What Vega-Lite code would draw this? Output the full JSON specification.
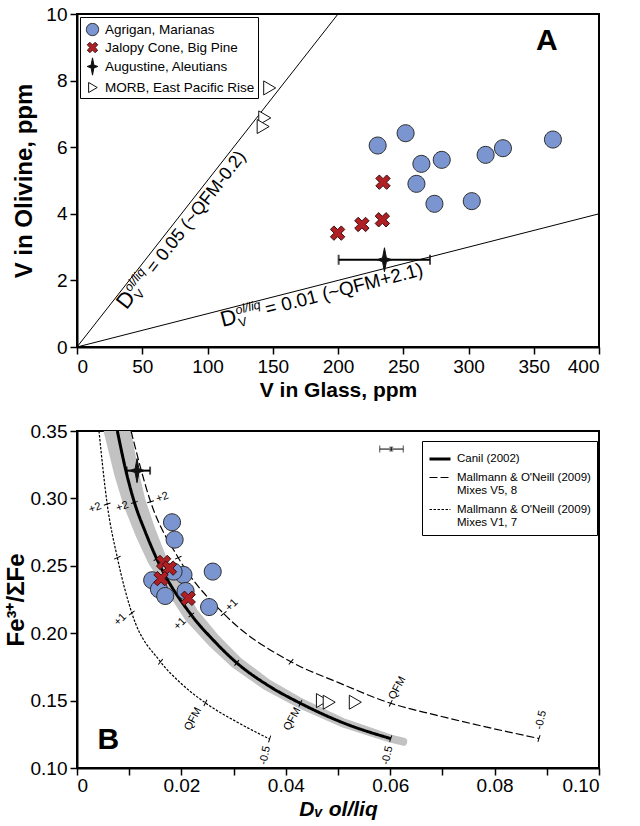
{
  "$schema": "https://vega.github.io/schema/vega-lite/v6.json",
  "padding": {"left": 3, "top": 4, "right": 5, "bottom": 0},
  "spacing": 20,
  "config": {
    "font": "Liberation Sans",
    "view": {"stroke": "black", "strokeWidth": 2},
    "axis": {
      "grid": false,
      "domainColor": "black",
      "domainWidth": 2,
      "tickColor": "black",
      "tickWidth": 1.5,
      "tickSize": 7,
      "labelColor": "black",
      "labelFontSize": 19,
      "labelPadding": 3,
      "titleColor": "black",
      "titleFontSize": 21,
      "titleFontWeight": "bold"
    },
    "text": {"color": "black"}
  },
  "datasets": {
    "samplesA": [
      {"site": "Agrigan, Marianas", "vg": 230.4, "vo": 6.05},
      {"site": "Agrigan, Marianas", "vg": 251.8, "vo": 6.42},
      {"site": "Agrigan, Marianas", "vg": 263.9, "vo": 5.50},
      {"site": "Agrigan, Marianas", "vg": 279.5, "vo": 5.62},
      {"site": "Agrigan, Marianas", "vg": 260.1, "vo": 4.90},
      {"site": "Agrigan, Marianas", "vg": 273.9, "vo": 4.30},
      {"site": "Agrigan, Marianas", "vg": 302.5, "vo": 4.38},
      {"site": "Agrigan, Marianas", "vg": 313.1, "vo": 5.77},
      {"site": "Agrigan, Marianas", "vg": 326.4, "vo": 5.97},
      {"site": "Agrigan, Marianas", "vg": 364.7, "vo": 6.23},
      {"site": "Jalopy Cone, Big Pine", "vg": 199.7, "vo": 3.42},
      {"site": "Jalopy Cone, Big Pine", "vg": 218.3, "vo": 3.68},
      {"site": "Jalopy Cone, Big Pine", "vg": 234.0, "vo": 3.82},
      {"site": "Jalopy Cone, Big Pine", "vg": 234.5, "vo": 4.95},
      {"site": "Augustine, Aleutians", "vg": 235.6, "vo": 2.62, "lo": 200.5, "hi": 270.5},
      {"site": "MORB, East Pacific Rise", "vg": 147.2, "vo": 7.78},
      {"site": "MORB, East Pacific Rise", "vg": 143.4, "vo": 6.88},
      {"site": "MORB, East Pacific Rise", "vg": 142.2, "vo": 6.62}
    ],
    "samplesB": [
      {"site": "Agrigan, Marianas", "d": 0.0182, "fe": 0.2823},
      {"site": "Agrigan, Marianas", "d": 0.0187, "fe": 0.2694},
      {"site": "Agrigan, Marianas", "d": 0.0260, "fe": 0.2457},
      {"site": "Agrigan, Marianas", "d": 0.0144, "fe": 0.2393},
      {"site": "Agrigan, Marianas", "d": 0.0157, "fe": 0.2326},
      {"site": "Agrigan, Marianas", "d": 0.0169, "fe": 0.2276},
      {"site": "Agrigan, Marianas", "d": 0.0204, "fe": 0.2433},
      {"site": "Agrigan, Marianas", "d": 0.0185, "fe": 0.2457},
      {"site": "Agrigan, Marianas", "d": 0.0208, "fe": 0.2313},
      {"site": "Agrigan, Marianas", "d": 0.0253, "fe": 0.2194},
      {"site": "Jalopy Cone, Big Pine", "d": 0.0166, "fe": 0.2525},
      {"site": "Jalopy Cone, Big Pine", "d": 0.0177, "fe": 0.2483},
      {"site": "Jalopy Cone, Big Pine", "d": 0.0161, "fe": 0.2405},
      {"site": "Jalopy Cone, Big Pine", "d": 0.0213, "fe": 0.2259},
      {"site": "Augustine, Aleutians", "d": 0.0115, "fe": 0.3206, "lo": 0.0095, "hi": 0.0140},
      {"site": "MORB, East Pacific Rise", "d": 0.0469, "fe": 0.1500},
      {"site": "MORB, East Pacific Rise", "d": 0.0482, "fe": 0.1488},
      {"site": "MORB, East Pacific Rise", "d": 0.0532, "fe": 0.1488}
    ],
    "partitionLines": [
      {"x0": 0, "y0": 0, "x1": 200, "y1": 10},
      {"x0": 0, "y0": 0, "x1": 400, "y1": 4}
    ],
    "lineLabels": [
      {"line": "0.05", "piece": "D", "vg": 28.0, "vo": 1.40, "t": "D"},
      {"line": "0.05", "piece": "sup", "vg": 28.0, "vo": 1.40, "t": "ol/liq"},
      {"line": "0.05", "piece": "sub", "vg": 28.0, "vo": 1.40, "t": "V"},
      {"line": "0.05", "piece": "eq", "vg": 28.0, "vo": 1.40, "t": "= 0.05 (~QFM-0.2)"},
      {"line": "0.01", "piece": "D", "vg": 108.4, "vo": 1.084, "t": "D"},
      {"line": "0.01", "piece": "sup", "vg": 108.4, "vo": 1.084, "t": "ol/liq"},
      {"line": "0.01", "piece": "sub", "vg": 108.4, "vo": 1.084, "t": "V"},
      {"line": "0.01", "piece": "eq", "vg": 108.4, "vo": 1.084, "t": "= 0.01 (~QFM+2.1)"}
    ],
    "panelLetters": [
      {"panel": "A", "vg": 360, "vo": 9.2},
      {"panel": "B", "d": 0.006, "fe": 0.121}
    ],
    "curves": [
      {"model": "Canil (2002)", "d": 0.00773, "fe": 0.35},
      {"model": "Canil (2002)", "d": 0.0094, "fe": 0.32},
      {"model": "Canil (2002)", "d": 0.0110, "fe": 0.297},
      {"model": "Canil (2002)", "d": 0.0131, "fe": 0.275},
      {"model": "Canil (2002)", "d": 0.0153, "fe": 0.255},
      {"model": "Canil (2002)", "d": 0.0219, "fe": 0.2135},
      {"model": "Canil (2002)", "d": 0.0262, "fe": 0.1945},
      {"model": "Canil (2002)", "d": 0.0306, "fe": 0.178},
      {"model": "Canil (2002)", "d": 0.0365, "fe": 0.1615},
      {"model": "Canil (2002)", "d": 0.0428, "fe": 0.148},
      {"model": "Canil (2002)", "d": 0.0510, "fe": 0.1335},
      {"model": "Canil (2002)", "d": 0.0601, "fe": 0.1218},
      {"model": "Mallmann & O'Neill (2009)|Mixes V5, 8", "d": 0.01036, "fe": 0.35},
      {"model": "Mallmann & O'Neill (2009)|Mixes V5, 8", "d": 0.0141, "fe": 0.2975},
      {"model": "Mallmann & O'Neill (2009)|Mixes V5, 8", "d": 0.0194, "fe": 0.256},
      {"model": "Mallmann & O'Neill (2009)|Mixes V5, 8", "d": 0.0281, "fe": 0.2145},
      {"model": "Mallmann & O'Neill (2009)|Mixes V5, 8", "d": 0.0410, "fe": 0.1788},
      {"model": "Mallmann & O'Neill (2009)|Mixes V5, 8", "d": 0.0500, "fe": 0.1635},
      {"model": "Mallmann & O'Neill (2009)|Mixes V5, 8", "d": 0.0601, "fe": 0.148},
      {"model": "Mallmann & O'Neill (2009)|Mixes V5, 8", "d": 0.0688, "fe": 0.1392},
      {"model": "Mallmann & O'Neill (2009)|Mixes V5, 8", "d": 0.0814, "fe": 0.1278},
      {"model": "Mallmann & O'Neill (2009)|Mixes V5, 8", "d": 0.0885, "fe": 0.1219},
      {"model": "Mallmann & O'Neill (2009)|Mixes V1, 7", "d": 0.00421, "fe": 0.35},
      {"model": "Mallmann & O'Neill (2009)|Mixes V1, 7", "d": 0.00578, "fe": 0.2958},
      {"model": "Mallmann & O'Neill (2009)|Mixes V1, 7", "d": 0.00773, "fe": 0.256},
      {"model": "Mallmann & O'Neill (2009)|Mixes V1, 7", "d": 0.0105, "fe": 0.215},
      {"model": "Mallmann & O'Neill (2009)|Mixes V1, 7", "d": 0.0160, "fe": 0.1788},
      {"model": "Mallmann & O'Neill (2009)|Mixes V1, 7", "d": 0.0200, "fe": 0.1625},
      {"model": "Mallmann & O'Neill (2009)|Mixes V1, 7", "d": 0.0246, "fe": 0.1483},
      {"model": "Mallmann & O'Neill (2009)|Mixes V1, 7", "d": 0.0307, "fe": 0.134},
      {"model": "Mallmann & O'Neill (2009)|Mixes V1, 7", "d": 0.0369, "fe": 0.1215}
    ],
    "band": [
      {"d": 0.0072, "fe": 0.365},
      {"d": 0.00773, "fe": 0.35},
      {"d": 0.0094, "fe": 0.32},
      {"d": 0.0110, "fe": 0.297},
      {"d": 0.0131, "fe": 0.275},
      {"d": 0.0153, "fe": 0.255},
      {"d": 0.0219, "fe": 0.2135},
      {"d": 0.0262, "fe": 0.1945},
      {"d": 0.0306, "fe": 0.178},
      {"d": 0.0365, "fe": 0.1615},
      {"d": 0.0428, "fe": 0.148},
      {"d": 0.0510, "fe": 0.1335},
      {"d": 0.0601, "fe": 0.1218},
      {"d": 0.0625, "fe": 0.1195}
    ],
    "bufferTicks": [
      {"d": 0.0110, "fe": 0.297}, {"d": 0.0153, "fe": 0.255}, {"d": 0.0219, "fe": 0.2135},
      {"d": 0.0306, "fe": 0.178}, {"d": 0.0428, "fe": 0.148}, {"d": 0.0601, "fe": 0.1218},
      {"d": 0.0141, "fe": 0.2975}, {"d": 0.0194, "fe": 0.256}, {"d": 0.0281, "fe": 0.2145},
      {"d": 0.0410, "fe": 0.1788}, {"d": 0.0601, "fe": 0.148}, {"d": 0.0885, "fe": 0.1219},
      {"d": 0.00578, "fe": 0.2958}, {"d": 0.00773, "fe": 0.256}, {"d": 0.0105, "fe": 0.215},
      {"d": 0.0160, "fe": 0.1788}, {"d": 0.0246, "fe": 0.1483}, {"d": 0.0369, "fe": 0.1215}
    ],
    "bufferLabels": [
      {"buffer": "+2", "d": 0.00345, "fe": 0.2928},
      {"buffer": "+2", "d": 0.00867, "fe": 0.2938},
      {"buffer": "+2", "d": 0.01633, "fe": 0.3007},
      {"buffer": "+1", "d": 0.00829, "fe": 0.2100},
      {"buffer": "+1", "d": 0.01972, "fe": 0.2068},
      {"buffer": "+1", "d": 0.02965, "fe": 0.2208},
      {"buffer": "QFM", "d": 0.02224, "fe": 0.1363},
      {"buffer": "QFM", "d": 0.04127, "fe": 0.1363},
      {"buffer": "QFM", "d": 0.06137, "fe": 0.1593},
      {"buffer": "-0.5", "d": 0.03606, "fe": 0.1093},
      {"buffer": "-0.5", "d": 0.0595, "fe": 0.1093},
      {"buffer": "-0.5", "d": 0.0889, "fe": 0.1356}
    ],
    "typicalError": [
      {"d": 0.0602, "fe": 0.3366, "lo": 0.0580, "hi": 0.0625, "felo": 0.3352, "fehi": 0.3380}
    ]
  },
  "resolve": {
    "scale": {"shape": "independent", "fill": "independent", "stroke": "independent", "strokeDash": "independent", "strokeWidth": "independent"},
    "legend": {"shape": "independent", "fill": "independent", "stroke": "independent", "strokeDash": "independent", "strokeWidth": "independent"}
  },
  "vconcat": [
    {
      "width": 522,
      "height": 333,
      "layer": [
        {
          "data": {"name": "partitionLines"},
          "mark": {"type": "rule", "color": "black", "strokeWidth": 1},
          "encoding": {
            "x": {"field": "x0", "type": "quantitative", "scale": {"domain": [0, 400], "nice": false},
                  "axis": {"title": "V in Glass, ppm", "values": [0, 50, 100, 150, 200, 250, 300, 350, 400], "titlePadding": 3}},
            "y": {"field": "y0", "type": "quantitative", "scale": {"domain": [0, 10], "nice": false},
                  "axis": {"title": "V in Olivine, ppm", "titleFontSize": 24, "values": [0, 1, 2, 3, 4, 5, 6, 7, 8, 9, 10],
                           "labelExpr": "datum.value % 2 === 0 ? datum.label : ''", "titlePadding": 9}},
            "x2": {"field": "x1"},
            "y2": {"field": "y1"}
          }
        },
        {
          "data": {"name": "samplesA"},
          "transform": [{"filter": "isValid(datum.lo)"}],
          "mark": {"type": "errorbar", "ticks": true, "size": 10, "thickness": 2, "color": "black"},
          "encoding": {
            "x": {"field": "lo", "type": "quantitative", "title": "V in Glass, ppm"},
            "x2": {"field": "hi"},
            "y": {"field": "vo", "type": "quantitative", "title": "V in Olivine, ppm"}
          }
        },
        {
          "data": {"name": "samplesA"},
          "mark": {"type": "point", "filled": true, "opacity": 1, "strokeWidth": 1, "size": 576},
          "encoding": {
            "x": {"field": "vg", "type": "quantitative", "title": "V in Glass, ppm"},
            "y": {"field": "vo", "type": "quantitative", "title": "V in Olivine, ppm"},
            "shape": {"field": "site", "type": "nominal",
              "scale": {"domain": ["Agrigan, Marianas", "Jalopy Cone, Big Pine", "Augustine, Aleutians", "MORB, East Pacific Rise"],
                        "range": ["M0.708,0A0.708,0.708,0,1,1,-0.708,0A0.708,0.708,0,1,1,0.708,0Z", "M0.306,-0.6L0.6,-0.306L0.294,0L0.6,0.306L0.306,0.6L0,0.294L-0.306,0.6L-0.6,0.306L-0.294,0L-0.6,-0.306L-0.306,-0.6L0,-0.294Z", "M0,-1L0.16,-0.16L0.62,0L0.16,0.16L0,1L-0.16,0.16L-0.62,0L-0.16,-0.16Z", "M-0.45,-0.583L0.55,0L-0.45,0.583Z"]},
              "legend": {"title": null, "orient": "top-left", "offset": 3, "padding": 3, "strokeColor": "black",
                         "labelFontSize": 13.5, "labelColor": "black", "labelLimit": 300, "labelOffset": 3, "rowPadding": 0,
                         "symbolSize": 300, "symbolStrokeWidth": 1, "fillColor": "white"}},
            "fill": {"field": "site", "type": "nominal",
              "scale": {"domain": ["Agrigan, Marianas", "Jalopy Cone, Big Pine", "Augustine, Aleutians", "MORB, East Pacific Rise"],
                        "range": ["#7b95d0", "#b01f24", "#111111", "#ffffff"]},
              "legend": {"title": null, "orient": "top-left", "offset": 3, "padding": 3, "strokeColor": "black",
                         "labelFontSize": 13.5, "labelColor": "black", "labelLimit": 300, "labelOffset": 3, "rowPadding": 0,
                         "symbolSize": 300, "symbolStrokeWidth": 1, "fillColor": "white"}},
            "stroke": {"field": "site", "type": "nominal",
              "scale": {"domain": ["Agrigan, Marianas", "Jalopy Cone, Big Pine", "Augustine, Aleutians", "MORB, East Pacific Rise"],
                        "range": ["#2a2a2a", "#3a1010", "#111111", "#111111"]},
              "legend": {"title": null, "orient": "top-left", "offset": 3, "padding": 3, "strokeColor": "black",
                         "labelFontSize": 13.5, "labelColor": "black", "labelLimit": 300, "labelOffset": 3, "rowPadding": 0,
                         "symbolSize": 300, "symbolStrokeWidth": 1, "fillColor": "white"}}
          }
        },
        {
          "data": {"name": "lineLabels"},
          "transform": [{"filter": "datum.line === '0.05' && datum.piece === 'D'"}],
          "mark": {"type": "text", "angle": -52.1, "align": "left", "baseline": "alphabetic", "dy": 16.5, "fontSize": 22},
          "encoding": {"x": {"field": "vg", "type": "quantitative", "title": "V in Glass, ppm"}, "y": {"field": "vo", "type": "quantitative", "title": "V in Olivine, ppm"}, "text": {"field": "t"}}
        },
        {
          "data": {"name": "lineLabels"},
          "transform": [{"filter": "datum.line === '0.05' && datum.piece === 'sup'"}],
          "mark": {"type": "text", "angle": -52.1, "align": "left", "baseline": "alphabetic", "dx": 16.5, "dy": 8, "fontSize": 12.5, "fontStyle": "italic"},
          "encoding": {"x": {"field": "vg", "type": "quantitative", "title": "V in Glass, ppm"}, "y": {"field": "vo", "type": "quantitative", "title": "V in Olivine, ppm"}, "text": {"field": "t"}}
        },
        {
          "data": {"name": "lineLabels"},
          "transform": [{"filter": "datum.line === '0.05' && datum.piece === 'sub'"}],
          "mark": {"type": "text", "angle": -52.1, "align": "left", "baseline": "alphabetic", "dx": 16.5, "dy": 21, "fontSize": 12.5},
          "encoding": {"x": {"field": "vg", "type": "quantitative", "title": "V in Glass, ppm"}, "y": {"field": "vo", "type": "quantitative", "title": "V in Olivine, ppm"}, "text": {"field": "t"}}
        },
        {
          "data": {"name": "lineLabels"},
          "transform": [{"filter": "datum.line === '0.05' && datum.piece === 'eq'"}],
          "mark": {"type": "text", "angle": -52.1, "align": "left", "baseline": "alphabetic", "dx": 46, "dy": 16.5, "fontSize": 18},
          "encoding": {"x": {"field": "vg", "type": "quantitative", "title": "V in Glass, ppm"}, "y": {"field": "vo", "type": "quantitative", "title": "V in Olivine, ppm"}, "text": {"field": "t"}}
        },
        {
          "data": {"name": "lineLabels"},
          "transform": [{"filter": "datum.line === '0.01' && datum.piece === 'D'"}],
          "mark": {"type": "text", "angle": -14.4, "align": "left", "baseline": "alphabetic", "dy": 16.5, "fontSize": 22},
          "encoding": {"x": {"field": "vg", "type": "quantitative", "title": "V in Glass, ppm"}, "y": {"field": "vo", "type": "quantitative", "title": "V in Olivine, ppm"}, "text": {"field": "t"}}
        },
        {
          "data": {"name": "lineLabels"},
          "transform": [{"filter": "datum.line === '0.01' && datum.piece === 'sup'"}],
          "mark": {"type": "text", "angle": -14.4, "align": "left", "baseline": "alphabetic", "dx": 16.5, "dy": 8, "fontSize": 12.5, "fontStyle": "italic"},
          "encoding": {"x": {"field": "vg", "type": "quantitative", "title": "V in Glass, ppm"}, "y": {"field": "vo", "type": "quantitative", "title": "V in Olivine, ppm"}, "text": {"field": "t"}}
        },
        {
          "data": {"name": "lineLabels"},
          "transform": [{"filter": "datum.line === '0.01' && datum.piece === 'sub'"}],
          "mark": {"type": "text", "angle": -14.4, "align": "left", "baseline": "alphabetic", "dx": 16.5, "dy": 21, "fontSize": 12.5},
          "encoding": {"x": {"field": "vg", "type": "quantitative", "title": "V in Glass, ppm"}, "y": {"field": "vo", "type": "quantitative", "title": "V in Olivine, ppm"}, "text": {"field": "t"}}
        },
        {
          "data": {"name": "lineLabels"},
          "transform": [{"filter": "datum.line === '0.01' && datum.piece === 'eq'"}],
          "mark": {"type": "text", "angle": -14.4, "align": "left", "baseline": "alphabetic", "dx": 46, "dy": 16.5, "fontSize": 19},
          "encoding": {"x": {"field": "vg", "type": "quantitative", "title": "V in Glass, ppm"}, "y": {"field": "vo", "type": "quantitative", "title": "V in Olivine, ppm"}, "text": {"field": "t"}}
        },
        {
          "data": {"name": "panelLetters"},
          "transform": [{"filter": "datum.panel === 'A'"}],
          "mark": {"type": "text", "fontSize": 30, "fontWeight": "bold", "align": "center", "baseline": "middle"},
          "encoding": {"x": {"field": "vg", "type": "quantitative", "title": "V in Glass, ppm"}, "y": {"field": "vo", "type": "quantitative", "title": "V in Olivine, ppm"}, "text": {"field": "panel"}}
        }
      ]
    },
    {
      "width": 522,
      "height": 337,
      "layer": [
        {
          "data": {"name": "band"},
          "mark": {"type": "trail", "color": "#c2c2c2", "clip": true},
          "encoding": {
            "x": {"field": "d", "type": "quantitative", "scale": {"domain": [0, 0.1], "nice": false}, "title": "Dᵥ ol/liq",
                  "axis": {"titleFontStyle": "italic", "titlePadding": 3, "labelPadding": 1,
                           "values": [0, 0.01, 0.02, 0.03, 0.04, 0.05, 0.06, 0.07, 0.08, 0.09, 0.1],
                           "labelExpr": "datum.value === 0 ? '0' : (round(datum.value * 100) % 2 === 0 ? format(datum.value, '.2f') : '')"}},
            "y": {"field": "fe", "type": "quantitative", "scale": {"domain": [0.1, 0.35], "nice": false}, "title": "Fe³⁺/ΣFe",
                  "axis": {"titlePadding": 2, "titleFontSize": 24,
                           "values": [0.1, 0.125, 0.15, 0.175, 0.2, 0.225, 0.25, 0.275, 0.3, 0.325, 0.35],
                           "labelExpr": "round(datum.value * 1000) % 50 === 0 ? format(datum.value, '.2f') : ''"}},
            "size": {"field": "fe", "type": "quantitative", "scale": {"domain": [0.12, 0.35], "range": [8, 27]}, "legend": null}
          }
        },
        {
          "data": {"name": "curves"},
          "mark": {"type": "line", "color": "black", "interpolate": "monotone", "clip": true},
          "encoding": {
            "x": {"field": "d", "type": "quantitative", "title": "Dᵥ ol/liq"},
            "y": {"field": "fe", "type": "quantitative", "title": "Fe³⁺/ΣFe"},
            "strokeDash": {"field": "model", "type": "nominal",
              "scale": {"domain": ["Canil (2002)", "Mallmann & O'Neill (2009)|Mixes V5, 8", "Mallmann & O'Neill (2009)|Mixes V1, 7"],
                        "range": [[1, 0], [8, 3], [2.5, 1.5]]},
              "legend": {"title": null, "orient": "none", "legendX": 345, "legendY": 10, "padding": 6, "strokeColor": "black",
                         "fillColor": "white", "labelFontSize": 11.5, "labelColor": "black", "labelLimit": 300, "labelOffset": 5,
                         "labelExpr": "split(datum.label, '|')", "symbolType": "stroke", "symbolSize": 441,
                         "symbolStrokeColor": "black", "rowPadding": 1}},
            "strokeWidth": {"field": "model", "type": "nominal",
              "scale": {"type": "ordinal", "domain": ["Canil (2002)", "Mallmann & O'Neill (2009)|Mixes V5, 8", "Mallmann & O'Neill (2009)|Mixes V1, 7"],
                        "range": [3, 1.2, 1.2]},
              "legend": {"title": null, "orient": "none", "legendX": 345, "legendY": 10, "padding": 6, "strokeColor": "black",
                         "fillColor": "white", "labelFontSize": 11.5, "labelColor": "black", "labelLimit": 300, "labelOffset": 5,
                         "labelExpr": "split(datum.label, '|')", "symbolType": "stroke", "symbolSize": 441,
                         "symbolStrokeColor": "black", "rowPadding": 1}}
          }
        },
        {
          "data": {"name": "bufferTicks"},
          "mark": {"type": "point", "shape": "stroke", "filled": false, "stroke": "black", "strokeWidth": 1, "size": 49, "opacity": 1},
          "encoding": {
            "x": {"field": "d", "type": "quantitative", "title": "Dᵥ ol/liq"},
            "y": {"field": "fe", "type": "quantitative", "title": "Fe³⁺/ΣFe"},
            "angle": {"field": "fe", "type": "quantitative",
                      "scale": {"domain": [0.122, 0.148, 0.178, 0.2135, 0.255, 0.297], "range": [-72, -64, -51, -39, -24, -18]}, "legend": null}
          }
        },
        {
          "data": {"name": "bufferLabels"},
          "transform": [{"filter": "datum.buffer === '+2'"}],
          "mark": {"type": "text", "fontSize": 11, "angle": -20, "align": "center", "baseline": "middle"},
          "encoding": {"x": {"field": "d", "type": "quantitative", "title": "Dᵥ ol/liq"}, "y": {"field": "fe", "type": "quantitative", "title": "Fe³⁺/ΣFe"}, "text": {"field": "buffer"}}
        },
        {
          "data": {"name": "bufferLabels"},
          "transform": [{"filter": "datum.buffer === '+1'"}],
          "mark": {"type": "text", "fontSize": 11, "angle": -45, "align": "center", "baseline": "middle"},
          "encoding": {"x": {"field": "d", "type": "quantitative", "title": "Dᵥ ol/liq"}, "y": {"field": "fe", "type": "quantitative", "title": "Fe³⁺/ΣFe"}, "text": {"field": "buffer"}}
        },
        {
          "data": {"name": "bufferLabels"},
          "transform": [{"filter": "datum.buffer === 'QFM'"}],
          "mark": {"type": "text", "fontSize": 11, "angle": -62, "align": "center", "baseline": "middle"},
          "encoding": {"x": {"field": "d", "type": "quantitative", "title": "Dᵥ ol/liq"}, "y": {"field": "fe", "type": "quantitative", "title": "Fe³⁺/ΣFe"}, "text": {"field": "buffer"}}
        },
        {
          "data": {"name": "bufferLabels"},
          "transform": [{"filter": "datum.buffer === '-0.5'"}],
          "mark": {"type": "text", "fontSize": 11, "angle": -78, "align": "center", "baseline": "middle"},
          "encoding": {"x": {"field": "d", "type": "quantitative", "title": "Dᵥ ol/liq"}, "y": {"field": "fe", "type": "quantitative", "title": "Fe³⁺/ΣFe"}, "text": {"field": "buffer"}}
        },
        {
          "data": {"name": "samplesB"},
          "transform": [{"filter": "isValid(datum.lo)"}],
          "mark": {"type": "errorbar", "ticks": true, "size": 8, "thickness": 2, "color": "black"},
          "encoding": {
            "x": {"field": "lo", "type": "quantitative", "title": "Dᵥ ol/liq"},
            "x2": {"field": "hi"},
            "y": {"field": "fe", "type": "quantitative", "title": "Fe³⁺/ΣFe"}
          }
        },
        {
          "data": {"name": "samplesB"},
          "mark": {"type": "point", "filled": true, "opacity": 1, "strokeWidth": 1, "size": 576},
          "encoding": {
            "x": {"field": "d", "type": "quantitative", "title": "Dᵥ ol/liq"},
            "y": {"field": "fe", "type": "quantitative", "title": "Fe³⁺/ΣFe"},
            "shape": {"field": "site", "type": "nominal",
              "scale": {"domain": ["Agrigan, Marianas", "Jalopy Cone, Big Pine", "Augustine, Aleutians", "MORB, East Pacific Rise"],
                        "range": ["M0.708,0A0.708,0.708,0,1,1,-0.708,0A0.708,0.708,0,1,1,0.708,0Z", "M0.306,-0.6L0.6,-0.306L0.294,0L0.6,0.306L0.306,0.6L0,0.294L-0.306,0.6L-0.6,0.306L-0.294,0L-0.6,-0.306L-0.306,-0.6L0,-0.294Z", "M0,-1L0.16,-0.16L0.62,0L0.16,0.16L0,1L-0.16,0.16L-0.62,0L-0.16,-0.16Z", "M-0.45,-0.583L0.55,0L-0.45,0.583Z"]},
              "legend": null},
            "fill": {"field": "site", "type": "nominal",
              "scale": {"domain": ["Agrigan, Marianas", "Jalopy Cone, Big Pine", "Augustine, Aleutians", "MORB, East Pacific Rise"],
                        "range": ["#7b95d0", "#b01f24", "#111111", "#ffffff"]},
              "legend": null},
            "stroke": {"field": "site", "type": "nominal",
              "scale": {"domain": ["Agrigan, Marianas", "Jalopy Cone, Big Pine", "Augustine, Aleutians", "MORB, East Pacific Rise"],
                        "range": ["#2a2a2a", "#3a1010", "#111111", "#111111"]},
              "legend": null}
          }
        },
        {
          "data": {"name": "typicalError"},
          "mark": {"type": "errorbar", "ticks": true, "size": 7, "thickness": 1, "color": "black"},
          "encoding": {
            "x": {"field": "lo", "type": "quantitative", "title": "Dᵥ ol/liq"},
            "x2": {"field": "hi"},
            "y": {"field": "fe", "type": "quantitative", "title": "Fe³⁺/ΣFe"}
          }
        },
        {
          "data": {"name": "typicalError"},
          "mark": {"type": "errorbar", "ticks": true, "size": 4, "thickness": 1, "color": "black"},
          "encoding": {
            "x": {"field": "d", "type": "quantitative", "title": "Dᵥ ol/liq"},
            "y": {"field": "felo", "type": "quantitative", "title": "Fe³⁺/ΣFe"},
            "y2": {"field": "fehi"}
          }
        },
        {
          "data": {"name": "panelLetters"},
          "transform": [{"filter": "datum.panel === 'B'"}],
          "mark": {"type": "text", "fontSize": 30, "fontWeight": "bold", "align": "center", "baseline": "middle"},
          "encoding": {"x": {"field": "d", "type": "quantitative", "title": "Dᵥ ol/liq"}, "y": {"field": "fe", "type": "quantitative", "title": "Fe³⁺/ΣFe"}, "text": {"field": "panel"}}
        }
      ]
    }
  ]
}
